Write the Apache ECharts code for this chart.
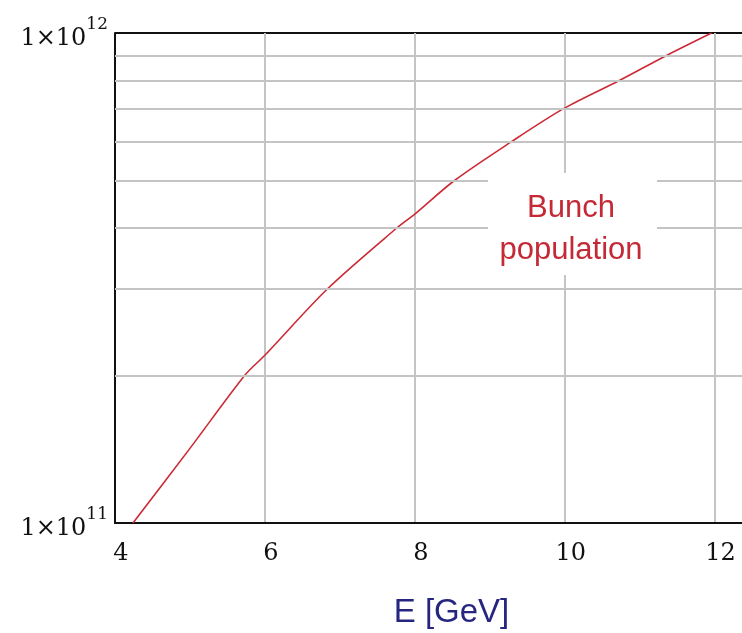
<!DOCTYPE html>
<html>
<head>
<meta charset="utf-8">
<script src="https://cdn.jsdelivr.net/npm/echarts@6/dist/echarts.min.js"></script>
<style>
html,body{margin:0;padding:0;background:#fff;}
#chart{width:742px;height:633px;}
</style>
</head>
<body>
<div id="chart"></div>
<script>
// Data
const energyGeV = [4.24, 5.0, 5.73, 6.0, 6.83, 7.76, 8.0, 8.53, 9.29, 9.98, 10.73, 11.36, 11.96];
const bunchPopulation = [1.0e11, 1.42e11, 2.0e11, 2.2e11, 3.0e11, 4.0e11, 4.27e11, 5.0e11, 6.0e11, 7.0e11, 8.0e11, 9.0e11, 1.0e12];
const xTicks = [4, 6, 8, 10, 12];
const yMinorGrid = [2e11, 3e11, 4e11, 5e11, 6e11, 7e11, 8e11, 9e11];
const yTickLabels = { '100000000000': ['1×10', '11'], '1000000000000': ['1×10', '12'] };
const seriesName = 'Bunch population';
const xAxisTitle = 'E [GeV]';

const chart = echarts.init(document.getElementById('chart'), null, { renderer: 'canvas' });
const points = energyGeV.map((e, i) => [e, bunchPopulation[i]]);

const option = {
  backgroundColor: '#ffffff',
  animation: false,
  grid: { left: 115, right: -10, top: 33, bottom: 110, containLabel: false, outerBoundsMode: 'none' },
  xAxis: {
    type: 'value',
    min: 4, max: 12.5, interval: 2,
    name: xAxisTitle,
    nameLocation: 'middle',
    nameGap: 73,
    nameTextStyle: { fontFamily: 'Arial, Liberation Sans, sans-serif', fontSize: 33, color: '#262680', padding: [0, 0, 0, 36] },
    axisLine: { show: true, lineStyle: { color: '#111', width: 2 } },
    axisTick: { show: false },
    axisLabel: {
      margin: 19,
      fontFamily: 'DejaVu Serif', fontSize: 24, color: '#111',
      padding: [0, 0, 0, 12],
      showMaxLabel: false,
      formatter: v => (xTicks.indexOf(v) >= 0 ? String(v) : '')
    },
    splitLine: { show: true, lineStyle: { color: '#c4c4c4', width: 2 } }
  },
  yAxis: {
    type: 'log', logBase: 10,
    min: 1e11, max: 1e12,
    axisLine: { show: true, lineStyle: { color: '#111', width: 2 } },
    axisTick: { show: false },
    splitLine: { show: true, lineStyle: { color: '#111', width: 2 } },
    axisLabel: {
      margin: 7,
      formatter: v => {
        const k = String(Math.round(v));
        const t = yTickLabels[k];
        return t ? '{b|' + t[0] + '}{s|' + t[1] + '}' : '';
      },
      rich: {
        b: { fontFamily: 'DejaVu Serif', fontSize: 24, color: '#111', lineHeight: 30, padding: [12, 0, 0, 0] },
        s: { fontFamily: 'DejaVu Serif', fontSize: 17, color: '#111', lineHeight: 30, padding: [0, 0, 16, 0] }
      }
    }
  },
  series: [{
    name: seriesName,
    type: 'line',
    data: points,
    smooth: 0.3,
    showSymbol: false,
    lineStyle: { color: '#cc2a35', width: 1.6 },
    markLine: {
      silent: true,
      symbol: ['none', 'none'],
      label: { show: false },
      lineStyle: { color: '#c4c4c4', width: 2, type: 'solid' },
      data: yMinorGrid.map(v => ({ yAxis: v }))
    },
    z: 3
  }],
  graphic: [{
    type: 'rect',
    z: 10,
    shape: { x: 488, y: 173, width: 169, height: 102 },
    style: { fill: '#ffffff' }
  }, {
    type: 'text',
    z: 11,
    x: 571, y: 229,
    style: {
      text: 'Bunch\npopulation',
      fontFamily: 'Arial, Liberation Sans, sans-serif',
      fontSize: 31,
      lineHeight: 42,
      fill: '#c42a35',
      align: 'center',
      verticalAlign: 'middle'
    }
  }]
};
chart.setOption(option);
</script>
</body>
</html>
